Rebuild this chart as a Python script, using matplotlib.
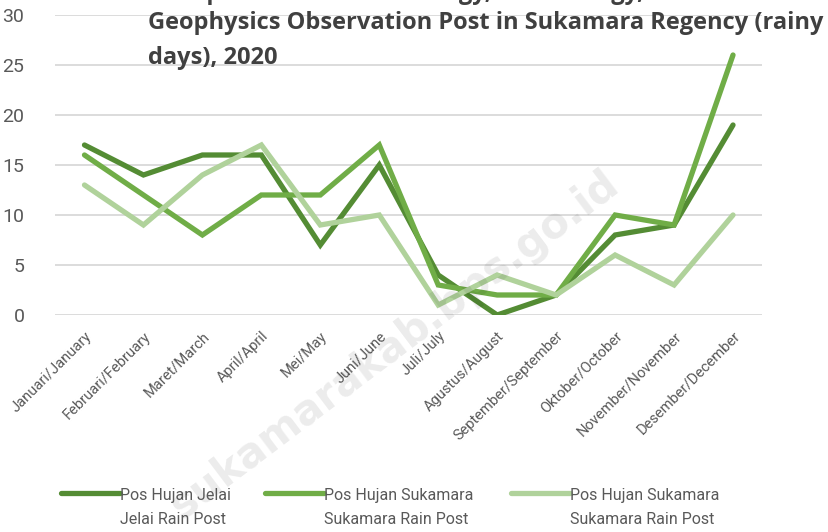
import matplotlib
matplotlib.use("Agg")
import matplotlib.pyplot as plt
from matplotlib.legend_handler import HandlerLine2D

months = ["Januari/January", "Februari/February", "Maret/March", "April/April",
          "Mei/May", "Juni/June", "Juli/July", "Agustus/August",
          "September/September", "Oktober/October", "November/November",
          "Desember/December"]
jelai = [17, 14, 16, 16, 7, 15, 4, 0, 2, 8, 9, 19]
sukamara = [16, 12, 8, 12, 12, 17, 3, 2, 2, 10, 9, 26]
sukamara2 = [13, 9, 14, 17, 9, 10, 1, 4, 2, 6, 3, 10]
series_names = ["Pos Hujan Jelai\nJelai Rain Post",
                "Pos Hujan Sukamara\nSukamara Rain Post",
                "Pos Hujan Sukamara\nSukamara Rain Post"]
yticks = [0, 5, 10, 15, 20, 25, 30]
title_lines = ["Precipitation at Meteorology, Climatology, and",
               "Geophysics Observation Post in Sukamara Regency (rainy",
               "days), 2020"]

FONT = "Roboto"
TFONT = "Open Sans"
GRAY = "#595959"

W, H = 829, 532
fig = plt.figure(figsize=(W / 100, H / 100), dpi=100)
ax = fig.add_axes([55 / W, (H - 315) / H, (762.5 - 55) / W, 300 / H])

colors = ["#548C34", "#70AD47", "#B0D29B"]
x = list(range(len(months)))
lines = []
for vals, c, n in zip([jelai, sukamara, sukamara2], colors, series_names):
    ln, = ax.plot(x, vals, color=c, lw=3.8, solid_capstyle="round",
                  solid_joinstyle="miter", label=n, zorder=3)
    lines.append(ln)

ax.set_xlim(-0.5, 11.5)
ax.set_ylim(0, 30)
ax.set_yticks(yticks)
ax.grid(axis="y", color="#D9D9D9", lw=1.3, zorder=0)
ax.set_axisbelow(True)
for s in ax.spines.values():
    s.set_visible(False)
ax.tick_params(axis="both", length=0)
ax.tick_params(axis="y", pad=22, labelsize=14, labelcolor=GRAY)
ax.set_xticks(x)
ax.set_xticklabels(months, rotation=45, ha="right", rotation_mode="anchor",
                   fontsize=10.5, color=GRAY, family=FONT)
ax.tick_params(axis="x", pad=10)
for lab in ax.get_yticklabels():
    lab.set_family(FONT)

# title, fitted to the reference width
fig.canvas.draw()
r = fig.canvas.get_renderer()
probe = fig.text(0, 0, title_lines[1], fontsize=16, fontweight="bold", family=TFONT)
w = probe.get_window_extent(r).width
probe.remove()
tsize = 16 * 674 / w
baselines = [-1, 29, 64]
for t, b in zip(title_lines, baselines):
    fig.text(148 / W, 1 - b / H, t, fontsize=tsize, fontweight="bold",
             color="#404040", family=TFONT, ha="left", va="baseline")


class RaisedLine(HandlerLine2D):
    def create_artists(self, legend, orig_handle, xdescent, ydescent, width, height,
                       fontsize, trans):
        arts = super().create_artists(legend, orig_handle, xdescent, ydescent, width,
                                      height, fontsize, trans)
        for a in arts:
            yd = a.get_ydata()
            a.set_ydata([v + 0.95 * fontsize for v in yd])
        return arts


anchors = [55, 259, 505]
for ln, ax0 in zip(lines, anchors):
    lg = fig.legend(handles=[ln], loc="lower left",
                    bbox_to_anchor=(ax0 / W - 8 / W, -0.018), frameon=False,
                    prop={"family": FONT, "size": 11.5}, handlelength=3.7,
                    handletextpad=-0.05, labelcolor=GRAY,
                    handler_map={ln: RaisedLine()})
    for t in lg.get_texts():
        t.set_linespacing(1.75)

fig.text(395 / W, 1 - 345 / H, "sukamarakab.bps.go.id", rotation=37, fontsize=30,
         fontweight="bold", color="#000000", alpha=0.08, ha="center", va="center",
         family="DejaVu Sans")

fig.savefig("out.png", dpi=100)
